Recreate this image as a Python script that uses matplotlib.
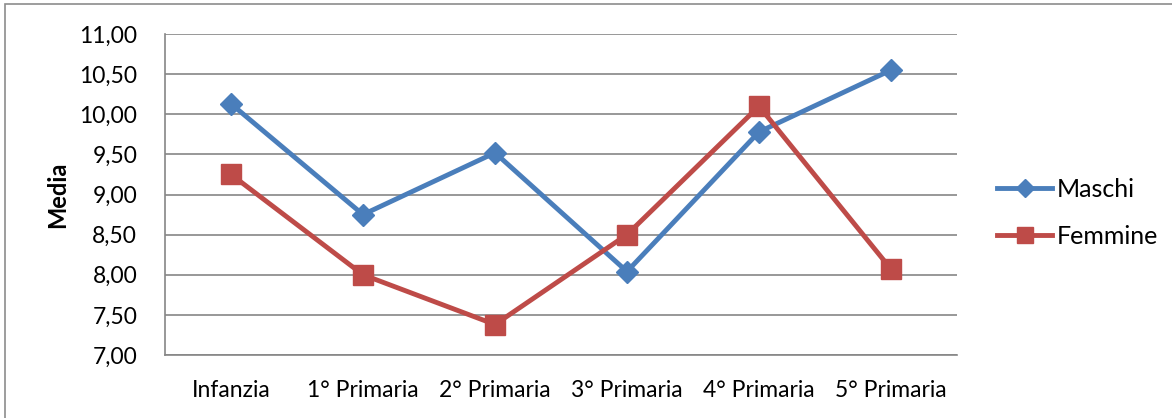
import matplotlib
matplotlib.use("Agg")
import matplotlib.pyplot as plt
from matplotlib.patches import Rectangle
from matplotlib.ticker import FuncFormatter

categories = ["Infanzia", "1° Primaria", "2° Primaria", "3° Primaria", "4° Primaria", "5° Primaria"]
maschi = [10.13, 8.75, 9.52, 8.04, 9.78, 10.55]
femmine = [9.25, 8.00, 7.38, 8.50, 10.10, 8.07]

plt.rcParams['font.family'] = ['Lato', 'DejaVu Sans']

fig = plt.figure(figsize=(11.72, 4.18), dpi=100)
ax = fig.add_axes([165 / 1172, 63 / 418, 792 / 1172, 321 / 418])

# outer chart frame
fig.patches.append(Rectangle((5 / 1172, -0.2), 1.2, 1.2 - 4 / 418, transform=fig.transFigure,
                             fill=False, edgecolor="#8c8c8c", linewidth=1.2))

x = list(range(len(categories)))
ax.plot(x, maschi, color="#4A7EBB", linewidth=3.5, marker="D", markersize=11,
        markerfacecolor="#4A7EBB", markeredgecolor="#4A7EBB", label="Maschi", zorder=3)
ax.plot(x, femmine, color="#BE4B48", linewidth=3.5, marker="s", markersize=14.5,
        markerfacecolor="#BE4B48", markeredgecolor="#BE4B48", label="Femmine", zorder=3)

ax.set_xlim(-0.5, len(categories) - 0.5)
ax.set_ylim(7.0, 11.0)
ax.set_yticks([7.0 + 0.5 * i for i in range(9)])
ax.yaxis.set_major_formatter(FuncFormatter(lambda v, p: f"{v:.2f}".replace(".", ",")))
ax.set_xticks(x)
ax.set_xticklabels(categories)
ax.grid(axis="y", color="#868686", linewidth=1.2)
ax.set_axisbelow(True)
for side in ["top", "right"]:
    ax.spines[side].set_visible(False)
for side in ["left", "bottom"]:
    ax.spines[side].set_color("#868686")
    ax.spines[side].set_linewidth(1.2)
ax.tick_params(axis="both", length=0, labelsize=16.5, colors="black")
ax.tick_params(axis="x", pad=18)
ax.tick_params(axis="y", pad=20)
ax.set_ylabel("Media", fontsize=17, fontweight="bold", labelpad=7)

leg = fig.legend(loc="center left", bbox_to_anchor=(997 / 1172, 205 / 418), frameon=False,
                 fontsize=18, handlelength=2.2, handletextpad=0.2, labelspacing=0.95,
                 borderpad=0, borderaxespad=0, markerscale=0.8)

fig.savefig("out.png", dpi=100)
